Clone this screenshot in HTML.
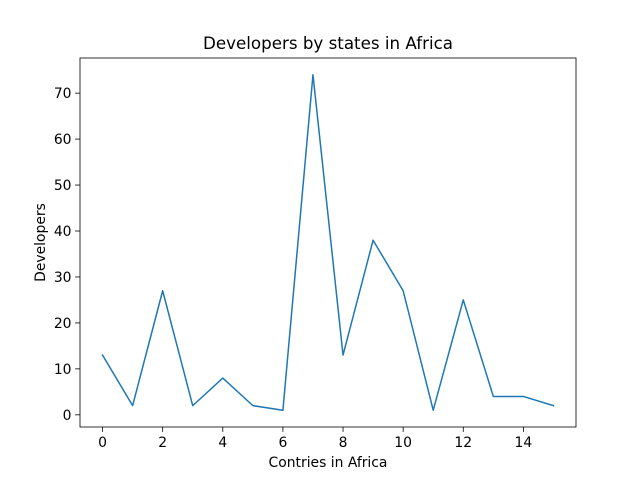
<!DOCTYPE html>
<html><head><meta charset="utf-8"><style>
body{margin:0;background:#fff;}
svg text{font-family:"DejaVu Sans","Liberation Sans",sans-serif;fill:#000;}
</style></head><body>
<svg id="chart" width="640" height="480" xmlns="http://www.w3.org/2000/svg">
<rect width="640" height="480" fill="#fff"/>
</svg>
<script>
const categories=[0,1,2,3,4,5,6,7,8,9,10,11,12,13,14,15];
const developers=[13,2,27,2,8,2,1,74,13,38,27,1,25,4,4,2];
const xTicks=[0,2,4,6,8,10,12,14];
const yTicks=[0,10,20,30,40,50,60,70];
const NS="http://www.w3.org/2000/svg";
const svg=document.getElementById('chart');
const L=80,R=576,T=58,B=427;
const xmin=-0.75,xmax=15.75;
const dmin=Math.min(...developers),dmax=Math.max(...developers),pad=(dmax-dmin)*0.05;
const ymin=dmin-pad,ymax=dmax+pad;
const xs=v=>L+(v-xmin)/(xmax-xmin)*(R-L);
const ys=v=>B-(v-ymin)/(ymax-ymin)*(B-T);
function mk(tag,attrs,parent){const e=document.createElementNS(NS,tag);for(const k in attrs)e.setAttribute(k,attrs[k]);(parent||svg).appendChild(e);return e;}
const line=mk('polyline',{points:categories.map((c,i)=>xs(c)+','+ys(developers[i])).join(' '),fill:'none',stroke:'#1f77b4','stroke-width':1.5,'stroke-linejoin':'round','stroke-linecap':'square'});


const frame=mk('rect',{x:L,y:T,width:R-L,height:B-T,fill:'none',stroke:'#000','stroke-width':0.8});


xTicks.forEach(v=>{
 const x=xs(v);
 mk('line',{x1:x,x2:x,y1:B,y2:B+4.9,stroke:'#000','stroke-width':0.8});
 const t=mk('text',{x:x,y:B+20,'text-anchor':'middle','font-size':13.9});
 t.textContent=v;
 
 
});
yTicks.forEach(v=>{
 const y=ys(v);
 mk('line',{x1:L-4.9,x2:L,y1:y,y2:y,stroke:'#000','stroke-width':0.8});
 const t=mk('text',{x:L-8.5,y:y+5,'text-anchor':'end','font-size':13.9});
 t.textContent=v;
 
 
});
const title=mk('text',{x:(L+R)/2,y:49,'text-anchor':'middle','font-size':16.7});
title.textContent='Developers by states in Africa';


const xt=mk('text',{x:(L+R)/2,y:467,'text-anchor':'middle','font-size':13.9});
xt.textContent='Contries in Africa';


const yt=mk('text',{x:45,y:(T+B)/2,'text-anchor':'middle','font-size':13.9,transform:'rotate(-90 45 '+((T+B)/2)+')'});
yt.textContent='Developers';


</script>
</body></html>
